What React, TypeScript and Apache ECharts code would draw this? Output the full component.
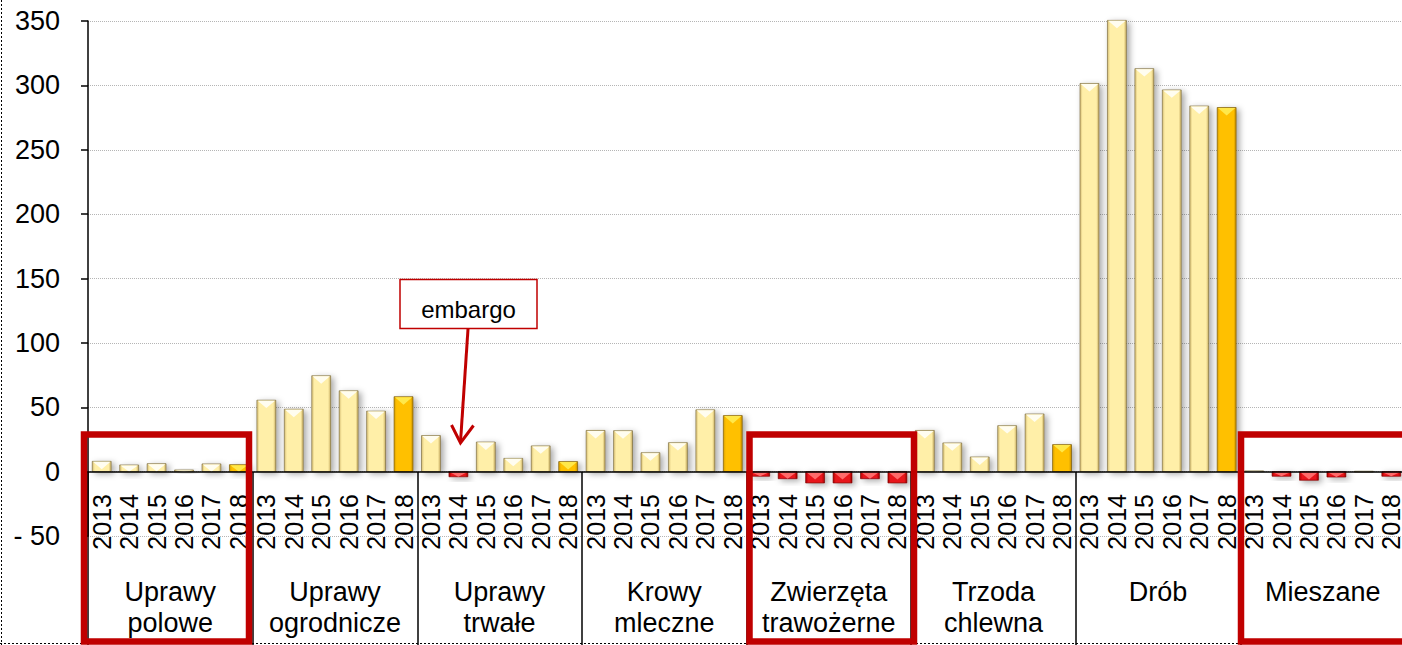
import React, { useEffect, useRef } from 'react';
import * as echarts from 'echarts';

const years = ['2013', '2014', '2015', '2016', '2017', '2018'];
const groups = [
  'Uprawy\npolowe',
  'Uprawy\nogrodnicze',
  'Uprawy\ntrwałe',
  'Krowy\nmleczne',
  'Zwierzęta\ntrawożerne',
  'Trzoda\nchlewna',
  'Drób',
  'Mieszane',
];
const uprawyPolowe = [8, 5.2, 6.2, 1.3, 6, 5.4];
const uprawyOgrodnicze = [55.5, 48.5, 74.5, 62.8, 47, 58.2];
const uprawyTrwale = [28, -4, 23, 10.3, 20, 7.8];
const krowyMleczne = [32, 31.8, 14.7, 22.5, 48, 43.5];
const zwierzetaTrawozerne = [-3.6, -5.5, -8.8, -8.8, -5.5, -8.8];
const trzodaChlewna = [32, 22.3, 11.4, 35.7, 44.8, 21];
const drob = [301.5, 350.5, 313, 296.5, 284, 282.8];
const mieszane = [0.6, -3.6, -6.7, -4.2, 0.3, -3.6];
const groupValues = [
  uprawyPolowe,
  uprawyOgrodnicze,
  uprawyTrwale,
  krowyMleczne,
  zwierzetaTrawozerne,
  trzodaChlewna,
  drob,
  mieszane,
];
const yTicks = { min: -50, max: 350, interval: 50 };

const FONT = "'Liberation Sans Narrow', 'Arial Narrow', 'Liberation Sans', Arial, sans-serif";
const RED = '#C00000';

const PALE = { edgeL: '#D6BE74', mid: '#FFEFA8', edgeR: '#C9AE62', tri: '#FFFDF0', stroke: 'rgba(110,95,50,0.75)' };
const GOLD = { edgeL: '#D9A000', mid: '#FFC000', edgeR: '#C68F00', tri: '#FFE84A', stroke: 'rgba(110,80,0,0.8)' };
const REDB = { edgeL: '#B00000', mid: '#E8141B', edgeR: '#A00000', tri: '#FF6A6A', stroke: 'rgba(120,0,0,0.8)' };

export default function App() {
  const ref = useRef<HTMLDivElement>(null);

  useEffect(() => {
    const chart = echarts.init(ref.current!, null, { renderer: 'svg' });
    const cats = groups.flatMap(() => years);
    const data = groupValues.flatMap((vals, g) => vals.map((v, i) => [g * years.length + i, v]));

    const renderItem = (params: any, api: any) => {
      const idx = api.value(0);
      const v = api.value(1);
      const top = api.coord([idx, v]);
      const base = api.coord([idx, 0]);
      const bw = api.size([1, 0])[0] * 0.69;
      const x = top[0] - bw / 2;
      const y = Math.min(top[1], base[1]);
      const h = Math.max(Math.abs(base[1] - top[1]), 0.8);
      const pal = v < 0 ? REDB : idx % years.length === years.length - 1 ? GOLD : PALE;
      const tri = Math.min(bw * 0.42, h);
      return {
        type: 'group',
        children: [
          {
            type: 'rect',
            shape: { x, y, width: bw, height: h },
            style: {
              fill: {
                type: 'linear', x: 0, y: 0, x2: 1, y2: 0,
                colorStops: [
                  { offset: 0, color: pal.edgeL },
                  { offset: 0.14, color: pal.mid },
                  { offset: 0.86, color: pal.mid },
                  { offset: 1, color: pal.edgeR },
                ],
              },
              stroke: pal.stroke,
              lineWidth: 0.8,
              shadowBlur: 6,
              shadowOffsetX: 3,
              shadowOffsetY: 2,
              shadowColor: 'rgba(0,0,0,0.35)',
            },
          },
          {
            type: 'polygon',
            shape: { points: [[x + 0.8, y + 0.5], [x + bw - 0.8, y + 0.5], [x + bw / 2, y + tri]] },
            style: { fill: pal.tri },
          },
        ],
      };
    };

    const option: any = {
      animation: false,
      backgroundColor: '#fff',
      grid: { left: 88, right: 0, top: 21, bottom: 109, containLabel: false },
      xAxis: [
        {
          type: 'category',
          data: cats,
          axisLine: { onZero: true, lineStyle: { color: '#000', width: 1.5 } },
          axisTick: { show: false },
          axisLabel: { interval: 0, rotate: 90, margin: -42, fontSize: 25, fontFamily: FONT, color: '#000' },
          splitLine: { show: false },
          z: 5,
        },
        {
          type: 'category',
          data: groups,
          position: 'bottom',
          axisLine: { show: false, onZero: false },
          axisTick: { show: true, interval: 0, inside: true, length: 64, lineStyle: { color: '#000', width: 1.5 } },
          axisLabel: { show: false },
        },
        {
          type: 'category',
          data: groups,
          position: 'bottom',
          axisLine: { show: false, onZero: false },
          axisTick: { show: true, interval: 0, length: 120, lineStyle: { color: '#000', width: 1.5 } },
          axisLabel: { interval: 0, margin: 40, fontSize: 27, lineHeight: 31, fontFamily: FONT, color: '#000' },
        },
      ],
      yAxis: {
        type: 'value',
        min: yTicks.min,
        max: yTicks.max,
        interval: yTicks.interval,
        axisLine: { show: true, lineStyle: { color: '#000', width: 1.5 } },
        axisTick: { show: true, length: 7, lineStyle: { color: '#000', width: 1.5 } },
        axisLabel: {
          margin: 28,
          fontSize: 27,
          fontFamily: FONT,
          color: '#000',
          formatter: (val: number) => (val < 0 ? '- ' + Math.abs(val) : String(val)),
        },
        splitLine: { show: true, lineStyle: { color: '#b5b5b5', type: 'dotted', width: 1 } },
      },
      series: [
        {
          type: 'custom',
          xAxisIndex: 0,
          yAxisIndex: 0,
          data,
          encode: { x: 0, y: 1 },
          clip: false,
          renderItem,
          z: 3,
        },
      ],
      graphic: [
        { type: 'line', z: 50, shape: { x1: 1.5, y1: 0, x2: 1.5, y2: 645 }, style: { stroke: '#000', lineWidth: 1, lineDash: [2, 2] } },
        { type: 'line', z: 50, shape: { x1: 0, y1: 643.5, x2: 1402, y2: 643.5 }, style: { stroke: '#000', lineWidth: 1, lineDash: [2, 2] } },
        { type: 'rect', z: 60, shape: { x: 84, y: 434.5, width: 165, height: 207 }, style: { fill: 'none', stroke: RED, lineWidth: 6.5 } },
        { type: 'rect', z: 60, shape: { x: 749.5, y: 434.5, width: 164.5, height: 207 }, style: { fill: 'none', stroke: RED, lineWidth: 6.5 } },
        { type: 'rect', z: 60, shape: { x: 1241, y: 434.5, width: 200, height: 207 }, style: { fill: 'none', stroke: RED, lineWidth: 6.5 } },
        { type: 'rect', z: 60, shape: { x: 400, y: 279.5, width: 137, height: 49 }, style: { fill: '#fff', stroke: RED, lineWidth: 1.5 } },
        { type: 'text', z: 61, x: 468.5, y: 309, style: { text: 'embargo', fontSize: 24, fontFamily: FONT, fill: '#000', align: 'center', verticalAlign: 'middle' } },
        { type: 'line', z: 60, shape: { x1: 468, y1: 329, x2: 460.5, y2: 442 }, style: { stroke: RED, lineWidth: 3 } },
        { type: 'polyline', z: 60, shape: { points: [[451.5, 425], [460.5, 443], [473.5, 425.5]] }, style: { stroke: RED, lineWidth: 3, fill: 'none' } },
      ],
    };
    chart.setOption(option);
    return () => chart.dispose();
  }, []);

  return (
    <div style={{ position: 'fixed', left: 0, top: 0, width: 1402, height: 645, overflow: 'hidden', background: '#fff' }}>
      <div ref={ref} style={{ width: 1405, height: 645 }} />
    </div>
  );
}
